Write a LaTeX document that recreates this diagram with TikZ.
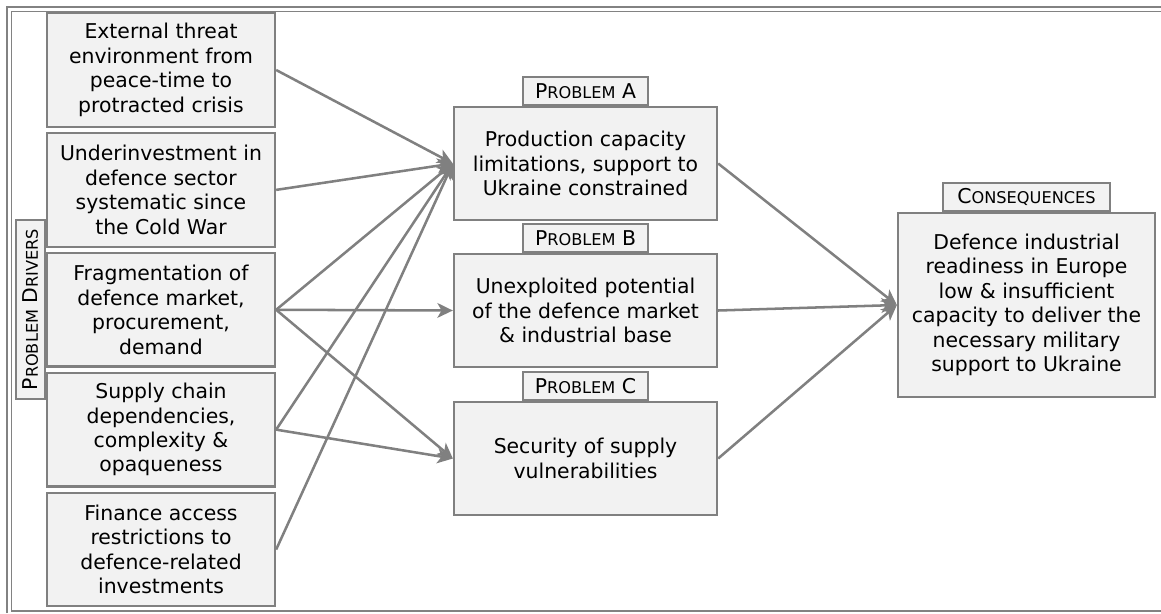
\documentclass[tikz,border=0pt]{standalone}
\usepackage{fontspec}
\setmainfont{DejaVu Sans}
\usetikzlibrary{arrows.meta,positioning}

\definecolor{edgegray}{RGB}{128,128,128}
\definecolor{fillgray}{RGB}{242,242,242}
\definecolor{framegray}{RGB}{130,130,130}

\newcommand{\boxfont}{\fontsize{14.5}{17.4}\selectfont}
\newcommand{\smallcap}[1]{{\fontsize{11.5}{13}\selectfont #1}}

\tikzset{
  base/.style={draw=edgegray, fill=fillgray, line width=1.6pt, inner sep=0pt, align=center, font=\boxfont},
  driver/.style={base, minimum width=5.7cm, minimum height=2.84cm},
  problem/.style={base, minimum width=6.575cm, minimum height=2.83cm},
  tag/.style={base, minimum height=0.69cm},
  link/.style={draw=edgegray, line width=1.8pt, -{Stealth[length=11pt,width=10.5pt,inset=3pt]}}
}

\begin{document}
\begin{tikzpicture}[x=0.025cm, y=-0.025cm]

            \useasboundingbox (0,0) rectangle (1161,613);

            % frame
            \draw[framegray, line width=1.5pt] (7,613) -- (7,7) -- (1161,7);
            \draw[framegray, line width=0.8pt] (1161,11.5) -- (11.5,11.5) -- (11.5,611) -- (1161,611);

            % drivers
            \node[driver] (d1) at (161,70) {External threat\\environment from\\peace-time to\\protracted crisis};
            \node[driver, below=0.1cm of d1] (d2) {Underinvestment in\\defence sector\\systematic since\\the Cold War};
            \node[driver, below=0.1cm of d2] (d3) {Fragmentation of\\defence market,\\procurement,\\demand};
            \node[driver, below=0.1cm of d3] (d4) {Supply chain\\dependencies,\\complexity \&\\opaqueness};
            \node[driver, below=0.1cm of d4] (d5) {Finance access\\restrictions to\\defence-related\\investments};
            \node[tag, rotate=90, minimum width=4.475cm, minimum height=0.725cm] (drvtag) at (30.5,309.5) {P\smallcap{ROBLEM} D\smallcap{RIVERS}};

            % problems
            \node[problem] (pa) at (585.5,163.5) {Production capacity\\limitations, support to\\Ukraine constrained};
            \node[problem] (pb) at (585.5,310.5) {Unexploited potential\\of the defence market\\\& industrial base};
            \node[problem] (pc) at (585.5,458.5) {Security of supply\\vulnerabilities};
            \node[tag, minimum width=3.125cm, above=0pt of pa] (ta) {P\smallcap{ROBLEM} A};
            \node[tag, minimum width=3.125cm, above=0pt of pb] (tb) {P\smallcap{ROBLEM} B};
            \node[tag, minimum width=3.125cm, above=0pt of pc] (tc) {P\smallcap{ROBLEM} C};

            % consequences
            \node[base, minimum width=6.425cm, minimum height=4.6cm] (cons) at (1026.5,305) {Defence industrial\\readiness in Europe\\low \& insufficient\\capacity to deliver the\\necessary military\\support to Ukraine};
            \node[tag, minimum width=4.175cm, above=0pt of cons] (tcons) {C\smallcap{ONSEQUENCES}};

            % links
                 \foreach \src in {d1,d2,d3,d4,d5}
                     \draw[link] (\src.east) -- (pa.west);
                 \draw[link] (d3.east) -- (pb.west);
                 \foreach \src in {d3,d4}
                     \draw[link] (\src.east) -- (pc.west);
                 \foreach \src in {pa,pb,pc}
                     \draw[link] (\src.east) -- (cons.west);
\end{tikzpicture}
\end{document}
